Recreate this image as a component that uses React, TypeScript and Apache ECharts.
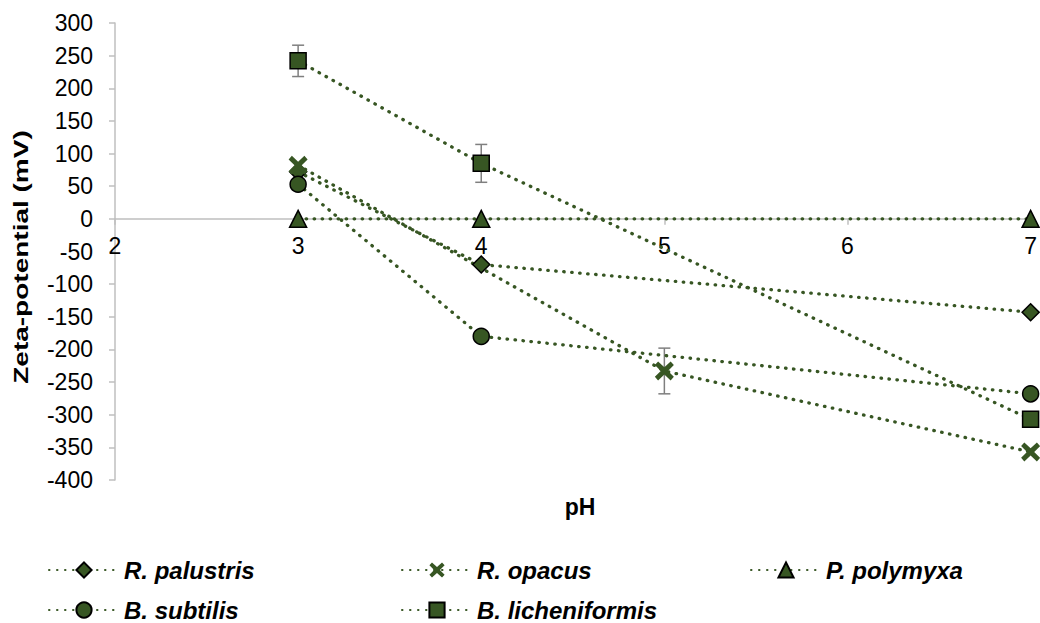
import React, { useEffect, useRef } from "react";
import * as echarts from "echarts";

// ---- data ----
const phValues = [3, 4, 5, 7];
const seriesNames = ["R. palustris", "R. opacus", "P. polymyxa", "B. subtilis", "B. licheniformis"];
const palustris = [72, -70, null, -143];
const opacus = [82, null, -233, -357];
const polymyxa = [0, 0, null, 0];
const subtilis = [53, -180, null, -268];
const licheniformis = [242, 85, null, -307];
const opacusErr = [null, null, 35, null];
const licheniformisErr = [24, 29, null, null];
const xMin = 2;
const xMax = 7;
const xStep = 1;
const yMin = -400;
const yMax = 300;
const yStep = 50;
const xTitle = "pH";
const yTitle = "Zeta-potential (mV)";

const GREEN = "#375623";
const FONT = '"Liberation Sans", Arial, sans-serif';

const GRID_TOP = 23;
const GRID_BOTTOM = 143;
const CHART_H = 623;

function pairs(vals: (number | null)[]) {
  return phValues
    .map((x, i) => (vals[i] == null ? null : [x, vals[i] as number]))
    .filter((p) => p !== null) as number[][];
}

function errPairs(vals: (number | null)[], errs: (number | null)[]) {
  return phValues
    .map((x, i) =>
      vals[i] == null || errs[i] == null
        ? null
        : [x, vals[i] as number, (vals[i] as number) - (errs[i] as number), (vals[i] as number) + (errs[i] as number)]
    )
    .filter((p) => p !== null) as number[][];
}

const X_PATH =
  "path://M1.7,0 L5,3.1 L8.3,0 L10,1.9 L6.9,5 L10,8.1 L8.3,10 L5,6.9 L1.7,10 L0,8.1 L3.1,5 L0,1.9 Z";

export default function App() {
  const ref = useRef<HTMLDivElement>(null);

  useEffect(() => {
    if (!ref.current) return;
    const chart = echarts.init(ref.current, undefined, { renderer: "svg" });

    // pixel offset that places the x axis on the value 0 of the y axis
    const plotH = CHART_H - GRID_TOP - GRID_BOTTOM;
    const zeroOffset = -((0 - yMin) / (yMax - yMin)) * plotH;

    const lineStyle = {
      color: GREEN,
      width: 3.3,
      type: [0.5, 7.5] as any,
      cap: "round" as any,
    };
    const markerStyle = { color: GREEN, borderColor: "#000", borderWidth: 1.5 };

    const mkLine = (name: string, vals: (number | null)[], symbol: string, size: number, noBorder = false) => ({
      name,
      type: "line",
      data: pairs(vals),
      symbol,
      symbolSize: size,
      showAllSymbol: true,
      connectNulls: true,
      z: 3,
      lineStyle,
      itemStyle: noBorder ? { color: GREEN, borderColor: GREEN, borderWidth: 0 } : markerStyle,
      emphasis: { disabled: true },
    });

    const errSeries = (vals: (number | null)[], errs: (number | null)[]) => ({
      type: "custom",
      z: 1,
      silent: true,
      data: errPairs(vals, errs),
      encode: { x: 0, y: [1, 2, 3] },
      renderItem: (params: any, api: any) => {
        const x = api.value(0);
        const lo = api.coord([x, api.value(2)]);
        const hi = api.coord([x, api.value(3)]);
        const hw = 6;
        const style = { stroke: "#7f7f7f", lineWidth: 1.5 };
        return {
          type: "group",
          children: [
            { type: "line", shape: { x1: lo[0], y1: lo[1], x2: hi[0], y2: hi[1] }, style },
            { type: "line", shape: { x1: lo[0] - hw, y1: lo[1], x2: lo[0] + hw, y2: lo[1] }, style },
            { type: "line", shape: { x1: hi[0] - hw, y1: hi[1], x2: hi[0] + hw, y2: hi[1] }, style },
          ],
        };
      },
    });

    const legendBase = {
      orient: "vertical",
      top: 558,
      padding: 0,
      itemWidth: 70,
      itemHeight: 19,
      itemGap: 16,
      selectedMode: false,
      textStyle: {
        fontFamily: FONT,
        fontSize: 24,
        fontWeight: "bold",
        fontStyle: "italic",
        color: "#000",
        lineHeight: 24,
      },
    };

    chart.setOption({
      animation: false,
      backgroundColor: "#fff",
      grid: { left: 115, right: 8, top: GRID_TOP, bottom: GRID_BOTTOM, containLabel: false },
      xAxis: {
        type: "value",
        position: "bottom",
        offset: zeroOffset,
        min: xMin,
        max: xMax,
        interval: xStep,
        axisLine: { onZero: false, lineStyle: { color: "#bfbfbf", width: 1.5 } },
        axisTick: { show: true, length: 6, lineStyle: { color: "#bfbfbf", width: 1.5 } },
        splitLine: { show: false },
        axisLabel: { fontFamily: FONT, fontSize: 23, color: "#000", margin: 16 },
      },
      yAxis: {
        type: "value",
        min: yMin,
        max: yMax,
        interval: yStep,
        axisLine: { show: true, onZero: false, lineStyle: { color: "#bfbfbf", width: 1.5 } },
        axisTick: { show: true, length: 6, lineStyle: { color: "#bfbfbf", width: 1.5 } },
        splitLine: { show: false },
        axisLabel: { fontFamily: FONT, fontSize: 23, color: "#000", margin: 22 },
      },
      legend: [
        { ...legendBase, left: 48, data: [seriesNames[0], seriesNames[3]] },
        { ...legendBase, left: 401, data: [seriesNames[1], seriesNames[4]] },
        { ...legendBase, left: 750, data: [seriesNames[2]] },
      ],
      graphic: [
        {
          type: "text",
          x: 21,
          y: 257,
          rotation: Math.PI / 2,
          scaleX: 1.4,
          style: {
            text: yTitle,
            font: `bold 20px ${FONT}`,
            fill: "#000",
            align: "center",
            verticalAlign: "middle",
          },
        },
        {
          type: "text",
          x: 580,
          y: 507,
          style: {
            text: xTitle,
            font: `bold 23px ${FONT}`,
            fill: "#000",
            align: "center",
            verticalAlign: "middle",
          },
        },
      ],
      series: [
        errSeries(licheniformis, licheniformisErr),
        errSeries(opacus, opacusErr),
        mkLine(seriesNames[0], palustris, "diamond", 17),
        mkLine(seriesNames[3], subtilis, "circle", 16),
        mkLine(seriesNames[2], polymyxa, "triangle", 17),
        mkLine(seriesNames[4], licheniformis, "rect", 16),
        mkLine(seriesNames[1], opacus, X_PATH, 19, true),
      ],
    });

    return () => chart.dispose();
  }, []);

  return (
    <div
      ref={ref}
      style={{ position: "fixed", left: 0, top: 0, width: 1040, height: 623, background: "#fff" }}
    />
  );
}
